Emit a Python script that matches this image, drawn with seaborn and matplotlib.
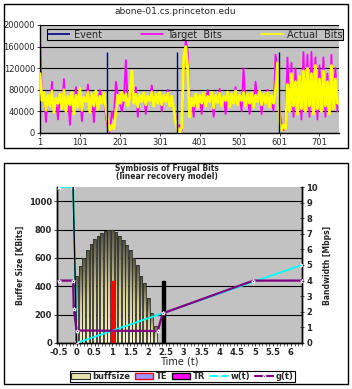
import numpy as np
import pandas as pd
import matplotlib
matplotlib.use("Agg")
import matplotlib.pyplot as plt
import seaborn as sns
from matplotlib.patches import Patch, Rectangle
from matplotlib.colors import LinearSegmentedColormap

# ---------------- data: top chart ----------------
sample_index = np.arange(1, 751, 5)
target_bits = [
    175000, 60000, 75000, 20000, 70000, 50000, 95000, 38000, 65000, 25000, 72000, 45000,
    100000, 40000, 68000, 15000, 75000, 35000, 85000, 48000, 82000, 22000, 66000, 58000,
    90000, 38000, 72000, 20000, 78000, 44000, 80000, 55000, 74000, 30000,
    10000, 2000, 40000, 25000,
    95000, 70000, 55000, 40000, 60000, 135000, 50000, 68000, 80000, 55000, 85000, 30000,
    70000, 58000, 74000, 35000, 68000, 60000, 88000, 50000, 72000, 55000, 75000, 40000,
    70000, 58000, 80000, 50000, 68000, 45000,
    30000, 10000, 15000, 5000,
    120000, 172000, 150000, 60000,
    65000, 30000, 72000, 48000, 70000, 35000, 74000, 50000, 80000, 58000, 75000, 30000,
    70000, 56000, 82000, 50000, 68000, 35000, 76000, 48000, 72000, 55000, 85000, 52000,
    70000, 40000, 120000, 50000, 72000, 35000, 74000, 48000, 95000, 58000, 78000, 35000,
    72000, 55000, 80000, 48000, 70000, 40000, 145000, 120000,
    40000, 15000, 5000, 25000,
    140000, 40000, 130000, 30000, 120000, 35000, 105000, 25000, 150000, 40000, 145000, 30000,
    150000, 35000, 140000, 25000, 125000, 40000, 140000, 30000, 110000, 35000, 145000, 45000,
    120000, 40000,
]
actual_bits = [
    110000, 60000, 75000, 42000, 70000, 50000, 78000, 38000, 65000, 55000, 72000, 45000,
    80000, 40000, 68000, 52000, 75000, 35000, 70000, 48000, 82000, 42000, 66000, 58000,
    76000, 38000, 72000, 50000, 78000, 44000, 68000, 55000, 74000, 46000,
    20000, 5000, 15000, 8000,
    40000, 70000, 55000, 75000, 60000, 72000, 50000, 68000, 115000, 55000, 72000, 48000,
    70000, 58000, 74000, 52000, 68000, 60000, 76000, 50000, 72000, 55000, 75000, 52000,
    70000, 58000, 74000, 50000, 68000, 45000,
    20000, 5000, 2000, 10000,
    140000, 160000, 120000, 30000,
    65000, 50000, 72000, 48000, 70000, 55000, 74000, 50000, 68000, 58000, 75000, 46000,
    70000, 56000, 74000, 50000, 68000, 60000, 76000, 48000, 72000, 55000, 78000, 52000,
    70000, 60000, 75000, 50000, 72000, 55000, 74000, 48000, 70000, 58000, 78000, 52000,
    72000, 55000, 75000, 48000, 70000, 55000, 80000, 130000,
    20000, 5000, 15000, 8000,
    90000, 40000, 110000, 50000, 95000, 35000, 105000, 45000, 115000, 40000, 120000, 50000,
    110000, 35000, 125000, 45000, 100000, 40000, 115000, 50000, 95000, 35000, 125000, 45000,
    100000, 55000,
]
event_index = [170, 345, 600]
event_bits = [150000, 150000, 150000]
top_xticks = [1, 101, 201, 301, 401, 501, 601, 701]
top_yticks = [0, 40000, 80000, 120000, 160000, 200000]

# ---------------- data: bottom chart ----------------
buff_t = [0.0, 0.1, 0.2, 0.3, 0.4, 0.5, 0.6, 0.7, 0.8, 0.9, 1.0, 1.1,
          1.2, 1.3, 1.4, 1.5, 1.6, 1.7, 1.8, 1.9, 2.0, 2.1, 2.2]
buff_size = [475, 545, 600, 655, 700, 735, 755, 775, 790, 800, 800, 780,
             755, 725, 690, 655, 600, 550, 475, 420, 315, 215, 120]
te_t = [1.0]
te_val = [440]
tr_t = [2.43]
tr_val = [440]
w_t = [-0.5, -0.1, 0.0, 6.31]
w_val = [10, 10, 0, 5]
g_t = [-0.5, -0.1, -0.08, 0.0, 2.27, 2.41, 4.95, 6.31]
g_val = [4.0, 4.0, 2.2, 0.8, 0.77, 1.9, 4.0, 4.0]
bot_xticks = [-0.5, 0, 0.5, 1, 1.5, 2, 2.5, 3, 3.5, 4, 4.5, 5, 5.5, 6]
bot_xlabels = ["-0.5", "0", "0.5", "1", "1.5", "2", "2.5", "3", "3.5", "4", "4.5", "5", "5.5", "6"]
left_yticks = [0, 200, 400, 600, 800, 1000]
right_yticks = list(range(0, 11))

GRAY = "#c2c2c2"
W, H = 352, 389

sns.set_style("white")
plt.rcParams["font.family"] = ["DejaVu Sans"]

fig = plt.figure(figsize=(W / 100, H / 100), dpi=100)

def fx(px):
    return px / W

def fy(py):
    return 1 - py / H

# chart borders
fig.patches.append(Rectangle((fx(4), fy(148)), fx(344), 144 / H, transform=fig.transFigure,
                             fill=False, edgecolor="black", lw=1.0))
fig.patches.append(Rectangle((fx(4), fy(384)), fx(344), 221 / H, transform=fig.transFigure,
                             fill=False, edgecolor="black", lw=1.0))

# ---------------- top chart ----------------
ax1 = fig.add_axes([fx(40), fy(133), fx(299), 108 / H])
ax1.set_facecolor(GRAY)
top_df = pd.DataFrame({"idx": sample_index, "target": target_bits, "actual": actual_bits})
sns.lineplot(data=top_df, x="idx", y="target", color="#ff00ff", lw=1.3, ax=ax1,
             label="Target  Bits", zorder=2)
sns.lineplot(data=top_df, x="idx", y="actual", color="#ffff00", lw=2.0, ax=ax1,
             label="Actual  Bits", zorder=3)
ax1.vlines(event_index, 0, event_bits, colors="#000080", lw=1.0, zorder=4, label="Event")
ax1.set_xlim(1, 750)
ax1.set_ylim(0, 200000)
ax1.set_xticks(top_xticks)
ax1.set_xticklabels([str(v) for v in top_xticks])
ax1.set_yticks(top_yticks)
ax1.set_yticklabels([str(v) for v in top_yticks])
ax1.set_xlabel("")
ax1.set_ylabel("")
ax1.yaxis.grid(True, color="black", lw=0.8)
ax1.set_axisbelow(True)
ax1.tick_params(labelsize=6, length=2, width=0.6, pad=1.5, left=True, bottom=True)
for s in ["top", "right"]:
    ax1.spines[s].set_visible(False)
for s in ["left", "bottom"]:
    ax1.spines[s].set_color("black")
    ax1.spines[s].set_linewidth(1.0)
ax1.get_legend().remove()
h, l = ax1.get_legend_handles_labels()
order = [l.index("Event"), l.index("Target  Bits"), l.index("Actual  Bits")]
leg1 = fig.legend([h[i] for i in order], ["Event", "Target  Bits", "Actual  Bits"], ncol=3,
                  loc="center", bbox_to_anchor=(fx(47), fy(39), fx(296), 9 / H), mode="expand",
                  fontsize=7, frameon=True, fancybox=False, facecolor=GRAY, edgecolor="black",
                  framealpha=1, borderpad=0.05, handlelength=2.3, handletextpad=0.4,
                  borderaxespad=0)
leg1.get_frame().set_linewidth(0.8)
for ln in leg1.get_lines():
    ln.set_linewidth(1.2)
fig.text(fx(175), fy(12), "abone-01.cs.princeton.edu", ha="center", va="center", fontsize=6.5)

# ---------------- bottom chart ----------------
ax2 = fig.add_axes([fx(57), fy(343), fx(245), 156 / H])
ax2.set_facecolor(GRAY)
sns.barplot(x=buff_t, y=buff_size, native_scale=True, width=0.8, ax=ax2,
            color="#d8d49c", edgecolor="#303030", linewidth=0.6, zorder=2)
cmap = LinearSegmentedColormap.from_list("bar", ["#f8f4c8", "#d0ca92", "#55533f"])
grad = np.linspace(0, 1, 64).reshape(-1, 1)
for p in list(ax2.patches):
    x0, w_, h_ = p.get_x(), p.get_width(), p.get_height()
    im = ax2.imshow(grad, extent=[x0, x0 + w_, 0, h_], origin="lower", aspect="auto",
                    cmap=cmap, zorder=2.1)
    im.set_clip_path(p)
    p.set_facecolor("none")
    p.set_zorder(2.2)
ax2.bar(te_t, te_val, width=0.08, color="#ff0000", edgecolor="#ff0000", zorder=3)
ax2.bar(tr_t, tr_val, width=0.07, color="black", edgecolor="black", zorder=3)
ax2.set_xlim(-0.55, 6.31)
ax2.set_ylim(0, 1100)
ax2.set_xticks(bot_xticks)
ax2.set_xticklabels(bot_xlabels)
ax2.set_xticks(np.arange(-0.5, 6.31, 0.1), minor=True)
ax2.set_yticks(left_yticks)
ax2.set_yticklabels([str(v) for v in left_yticks])
ax2.yaxis.grid(True, color="black", lw=0.8)
ax2.xaxis.grid(False)
ax2.set_axisbelow(True)
ax2.tick_params(axis="both", labelsize=6, length=2, width=0.6, pad=1.5, left=True, bottom=True)
ax2.tick_params(axis="x", which="minor", length=2, width=0.5, bottom=True)
for lab in ax2.get_xticklabels() + ax2.get_yticklabels():
    lab.set_fontweight("bold")
ax2.set_xlabel("Time (t)", fontsize=7, labelpad=0)
ax2.set_ylabel("Buffer Size [KBits]", fontsize=5.5, fontweight="bold", labelpad=3)
ax2.spines["top"].set_visible(False)

ax3 = ax2.twinx()
sns.lineplot(x=w_t, y=w_val, ax=ax3, color="#00ffff", lw=1.3, marker="x", ms=3, mew=0.8,
             label="w(t)", zorder=4, sort=False)
ax3.plot(w_t[1:3], w_val[1:3], color="black", lw=1.0, zorder=4.5)
sns.lineplot(x=g_t, y=g_val, ax=ax3, color="#800080", lw=1.6, marker="*", ms=3, mew=0.6,
             label="g(t)", zorder=5, sort=False)
ax3.set_ylim(0, 10)
ax3.set_yticks(right_yticks)
ax3.set_yticklabels([str(v) for v in right_yticks])
ax3.tick_params(axis="y", labelsize=6, length=3, width=0.6, pad=1.5, direction="inout", right=True)
for lab in ax3.get_yticklabels():
    lab.set_fontweight("bold")
ax3.set_ylabel("Bandwidth [Mbps]", fontsize=5.5, fontweight="bold", labelpad=4)
ax3.spines["top"].set_visible(False)
ax3.get_legend().remove()
for ax in (ax2, ax3):
    for s in ["left", "bottom", "right"]:
        ax.spines[s].set_color("black")
        ax.spines[s].set_linewidth(1.0)

fig.text(fx(167), fy(168), "Symbiosis of Frugal Bits", ha="center", va="center",
         fontsize=5.5, fontweight="bold")
fig.text(fx(167), fy(177), "(linear recovery model)", ha="center", va="center",
         fontsize=5.5, fontweight="bold")

h3, l3 = ax3.get_legend_handles_labels()
handles2 = [
    Patch(facecolor="#e8e4b0", edgecolor="#303030", lw=0.8),
    Patch(facecolor="#9999ff", edgecolor="#ff0000", lw=1.0),
    Patch(facecolor="#ff00ff", edgecolor="#000000", lw=1.0),
    h3[l3.index("w(t)")],
    h3[l3.index("g(t)")],
]
labels2 = ["buffsize", "TE", "TR", "w(t)", "g(t)"]
leg2 = fig.legend(handles2, labels2, ncol=5, loc="center",
                  bbox_to_anchor=(fx(70), fy(383), fx(225), 13 / H), mode="expand",
                  prop={"size": 6, "weight": "bold"}, frameon=True, fancybox=False,
                  facecolor="white", edgecolor="black", framealpha=1, borderpad=0.15,
                  handlelength=2.2, handleheight=0.6, handletextpad=0.3, columnspacing=0.5,
                  borderaxespad=0)
leg2.get_frame().set_linewidth(0.8)

fig.savefig("out.png", dpi=100)
